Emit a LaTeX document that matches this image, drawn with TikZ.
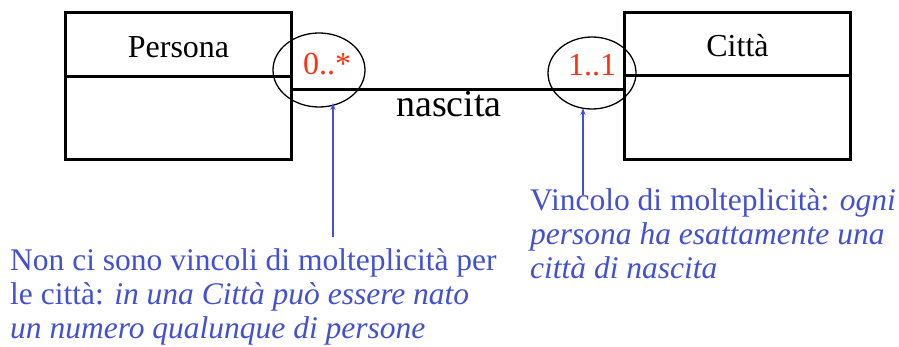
\documentclass[tikz,border=0pt]{standalone}
\usepackage{fontspec}
\setmainfont{Liberation Serif}
\usetikzlibrary{arrows.meta}

\definecolor{notaBlu}{RGB}{66,80,212}
\definecolor{moltRosso}{RGB}{255,48,16}

\tikzset{
  classe/.style={draw, line width=3pt, minimum width=226pt, minimum height=147pt, inner sep=0pt},
  nome/.style={anchor=base, font=\fontsize{32}{34}\selectfont, inner sep=0pt},
  molt/.style={text=moltRosso, font=\fontsize{32}{34}\selectfont, inner sep=0pt},
  nota/.style={text=notaBlu, font=\fontsize{31.5}{34}\selectfont, align=left, inner sep=0pt},
  richiamo/.style={draw=notaBlu, line width=1.2pt, -{Stealth[length=7pt,width=5pt]}}
}

\begin{document}
\begin{tikzpicture}[x=1pt, y=-1pt]
    \useasboundingbox (0,0) rectangle (899,347);

    % le due classi
    \node[classe] (persona) at (178.5,86.5) {};
    \node[classe] (citta) at (737.5,86.5) {};
    \draw[line width=3pt] (persona.west |- 0,77) -- (persona.east |- 0,77);
    \draw[line width=3pt] (citta.west |- 0,76) -- (citta.east |- 0,76);
    \node[nome] (nomeP) at (178.5,58) {Persona};
    \node[nome] (nomeC) at (737.5,57) {Città};

    % associazione
    \coordinate (assA) at (persona.east |- 0,90);
    \coordinate (assB) at (citta.west |- 0,90);
    \draw[line width=3pt] (assA) -- (assB);
    \node[anchor=base, font=\fontsize{38}{40}\selectfont, inner sep=0pt] (ruolo) at (449,117) {nascita};

    % molteplicita
    \node[molt, anchor=base] (mP) at (327,75) {0..*};
    \node[molt, anchor=base] (mC) at (592,76) {1..1};
    \draw[line width=1.3pt] (319,70) ellipse [x radius=46, y radius=37];
    \draw[line width=1.3pt] (592,73) ellipse [x radius=44, y radius=36];

    % note
    \node[nota, anchor=base west] (notaP) at (10,338) {Non ci sono vincoli di molteplicità per\\le città: \textit{in una Città può essere nato}\\\textit{un numero qualunque di persone}};
    \node[nota, anchor=base west] (notaC) at (530,279) {Vincolo di molteplicità: \textit{ogni}\\\textit{persona ha esattamente una}\\\textit{città di nascita}};
    \coordinate (puntaP) at (333,103);
    \coordinate (puntaC) at (583,108);
    \draw[richiamo] (333,237) -- (puntaP);
    \draw[richiamo] (583,195) -- (puntaC);
\end{tikzpicture}
\end{document}
